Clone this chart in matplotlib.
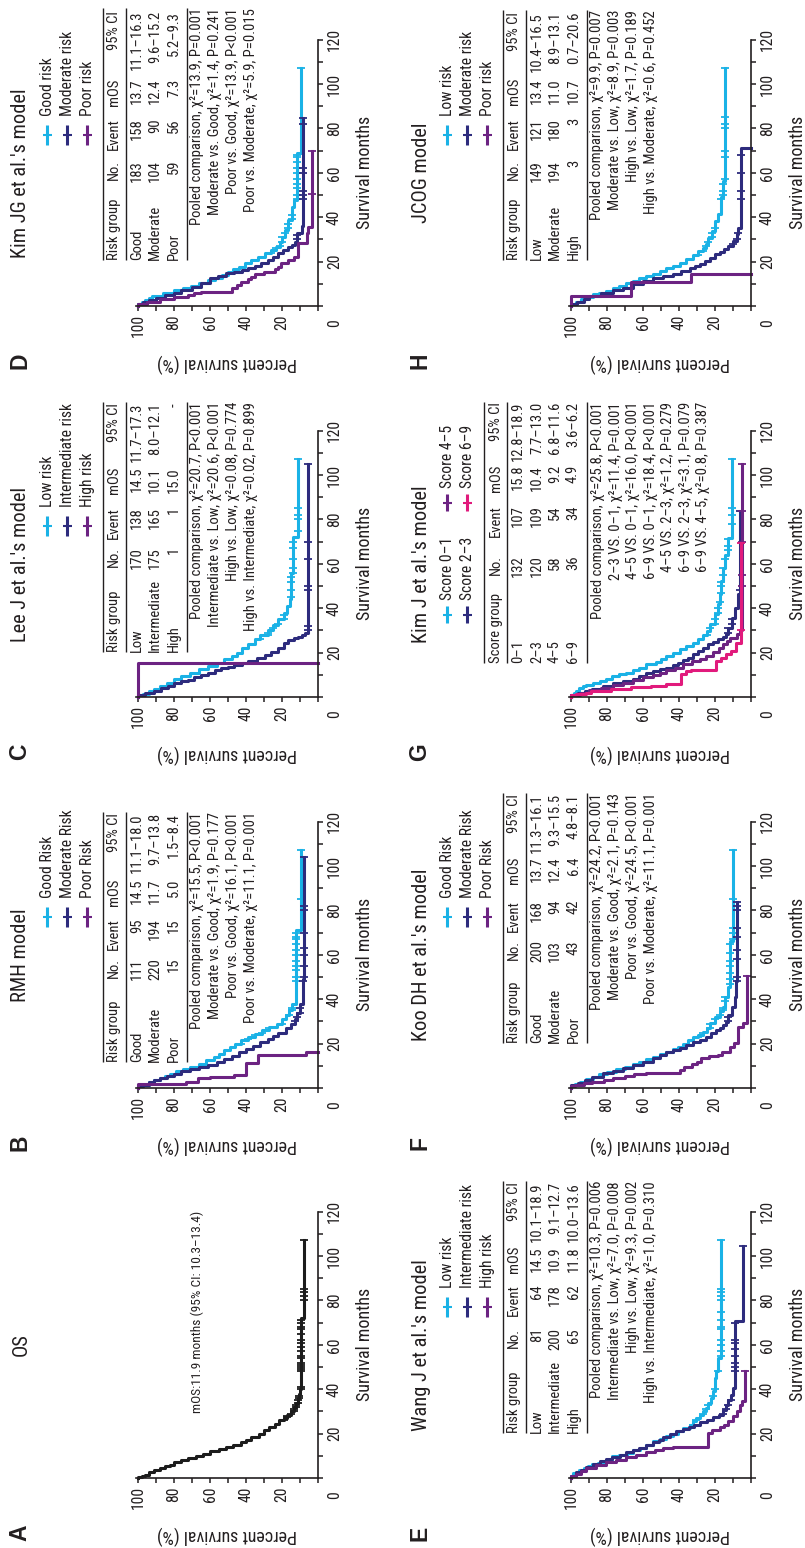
import numpy as np
import matplotlib
matplotlib.use("Agg")
import matplotlib.pyplot as plt
from matplotlib.lines import Line2D
from matplotlib import font_manager
from matplotlib.font_manager import FontProperties
from matplotlib.textpath import TextToPath

# the figure's type is tall and condensed: use a narrow sans if one is installed
_names = {f.name for f in font_manager.fontManager.ttflist}
_cands = ['Liberation Sans Narrow', 'Arial Narrow', 'Roboto Condensed', 'Noto Sans Condensed',
          'Open Sans Condensed', 'DejaVu Sans Condensed']
FONT = next((c for c in _cands if c in _names), 'Liberation Sans')
_ttp = TextToPath()


def _width(fam):
    prop = FontProperties(family=fam, size=10)
    return _ttp.get_text_width_height_descent('Survival months 0123456789', prop, ismath=False)[0]


K = min(max(_width('Liberation Sans') / _width(FONT), 1.0), 1.25)
plt.rcParams['font.family'] = [FONT, 'Liberation Sans', 'DejaVu Sans']

# ---------------- data: (months, survival %) step points ----------------
A_OS = [(0, 100), (0.5, 98), (1, 96), (1.5, 94), (2.5, 91), (3.5, 88), (4.5, 85), (5.5, 82), (6, 80),
        (7, 76), (8, 72), (9, 68), (10, 64), (11, 60), (12, 55), (13, 51), (14, 47), (15, 43), (16, 40),
        (17, 37), (18.5, 33), (20, 30), (21.5, 27), (23, 24), (24.5, 21.5), (26, 19), (27, 17), (28.5, 15),
        (30, 13.5), (32, 12.2), (34, 11.2), (36, 10.5), (38, 10), (40, 9.2), (72, 7.6)]
A_OS_CENS = [26, 27.5, 28, 29, 30, 31, 32, 33, 34, 35, 36, 37, 40, 41, 48, 49, 50, 51, 52, 54, 55, 57, 59,
             61, 62, 65, 67, 68, 70, 71, 80, 82, 84, 85, 107]

B_GOOD = [(0, 100), (0.7, 97), (1.5, 94), (2.5, 91), (3.5, 88), (4.5, 85), (5.5, 82), (6.5, 79), (7.5, 75),
          (8.5, 71), (9.5, 66), (11, 62), (12.5, 58), (14, 55), (15.5, 52), (17, 49), (18.5, 46), (20, 43),
          (21.5, 39), (23, 35), (24.5, 31), (26, 27), (27.5, 23), (29, 20), (31, 18), (33, 16), (35, 14.5),
          (38, 12), (71, 9.2)]
B_GOOD_CENS = [20, 22, 24, 25, 27, 29, 33, 35, 36, 48, 50, 53, 55, 57, 60, 62, 65, 67, 68, 70, 85, 107]
B_MOD = [(0, 100), (0.7, 97), (1.5, 94), (2.5, 91), (3.5, 88), (4.5, 84), (5.5, 80), (6.5, 76), (7.5, 71),
         (8.5, 66), (9.5, 61), (10.5, 56), (11.7, 52), (13, 48), (14.5, 44), (16, 40), (17.5, 36), (19, 32),
         (20.5, 28), (22, 25), (23.5, 22), (25, 18), (27, 15), (29, 13), (31, 11.5), (34, 10), (38, 8.5),
         (49, 7.6)]
B_MOD_CENS = [30, 32, 34, 36, 48, 50, 55, 60, 63, 70, 80, 82, 104]
B_POOR = [(0, 100), (1.6, 86.7), (1.8, 73.3), (2.9, 66.7), (4.4, 60), (5.0, 46.7), (5.9, 40), (11.1, 33.3),
          (14.9, 6.7), (16.4, 0)]

C_LOW = [(0, 100), (0.7, 97), (1.5, 94), (2.5, 91), (3.5, 88), (5, 84), (6.5, 80), (8, 76), (9.5, 71),
         (11, 66), (12.5, 61), (14, 56), (15.5, 52), (17, 48), (18.5, 45), (20, 42), (22, 39), (24, 35),
         (26, 32), (28, 28), (30, 25), (32.5, 22), (35, 19), (38, 17), (41, 15.8), (44, 14.8), (56, 14),
         (72, 11.2)]
C_LOW_CENS = [26, 28, 29, 31, 33, 35, 37, 45, 48, 52, 54, 56, 58, 62, 67, 70, 75, 80, 82, 85, 107]
C_INT = [(0, 100), (0.7, 96), (1.7, 91), (2.8, 87), (3.9, 83.6), (5, 80), (6.2, 76), (7, 72), (7.7, 68.7),
         (8.8, 65), (9.9, 61.3), (11, 57.5), (12.2, 53.8), (13, 50), (13.7, 46.4), (14.5, 42.5), (15.2, 39),
         (16.3, 34), (17.4, 29.6), (19, 26), (20.4, 22.2), (22, 19), (24.2, 16.6), (25.5, 13.5), (26.4, 11),
         (27.2, 9), (27.9, 7.3), (28.7, 5.4)]
C_INT_CENS = [30, 32, 48, 50, 62, 70, 105]
C_HIGH = [(0, 100), (15.5, 0)]

D_GOOD = [(0, 100), (0.8, 98), (1.8, 96), (2.8, 94), (3.5, 92), (4.5, 86), (5.7, 80), (7, 75), (8, 70.6),
          (9, 66), (10.2, 61.3), (11.5, 57), (12.8, 53.5), (14, 50.1), (15.2, 47), (16.5, 44), (17.7, 40.8),
          (19.2, 37), (20.7, 33.3), (22.2, 29.5), (23.7, 26), (25.2, 23.5), (26.7, 21.2), (29, 19.8),
          (31.2, 18.4), (34.2, 16.6), (38.7, 14.7), (44.7, 13.2), (47.7, 11.9), (68.8, 9.5)]
D_GOOD_CENS = [24, 26, 27, 29, 31, 33, 35, 37, 39, 41, 48, 50, 53, 55, 57, 60, 62, 65, 67, 68, 107]
D_MOD = [(0, 100), (0.8, 97), (1.8, 94), (2.8, 90), (3.8, 85), (4.8, 80), (5.7, 76), (7.2, 70), (8.7, 65),
         (10.5, 60), (12.5, 55.7), (13.6, 51), (14.7, 46.4), (15.5, 42.5), (16.2, 38.9), (17, 35.2),
         (18, 31.5), (19.2, 27.7), (20.7, 25), (22.2, 22.2), (23.7, 19.4), (25.2, 16.6), (26.5, 14.5),
         (27.5, 12.8), (29, 11.9), (32.7, 9.1), (36, 8.2)]
D_MOD_CENS = [30, 32, 48, 50, 52, 60, 62, 82, 84.5]
D_POOR = [(0, 100), (1, 95), (2, 88), (3, 80), (4.2, 72.4), (5, 69), (5.7, 65), (6.5, 48), (8, 45),
          (9.5, 42.6), (11, 39), (12, 37), (13.2, 35.2), (14.2, 30), (15.5, 24), (16.5, 22), (17.7, 20.3),
          (19.2, 16.6), (20.5, 13.5), (22.2, 11), (28.2, 6.3), (32.7, 5.4), (35.7, 3.5)]
D_POOR_CENS = [50.5, 70]

E_LOW = [(0, 100), (1, 98.8), (2.3, 95.5), (3.5, 93), (4.5, 90.5), (5.3, 88.1), (6.2, 85), (6.8, 80.6),
         (8, 77), (9.8, 73.2), (10.5, 69), (11.3, 65.7), (12.5, 61.5), (13.5, 58.3), (15, 54.5), (16.5, 50.8),
         (17.5, 47), (18.8, 43.4), (20, 40.5), (21, 37.8), (22.5, 34), (24, 32), (25.5, 30.4), (27, 28.5),
         (28.5, 26.6), (30, 25), (31.5, 23.8), (34, 22.5), (36, 21), (39, 20.1), (45, 19.2), (48, 18.2),
         (54, 16.4)]
E_LOW_CENS = [24, 26, 29, 31, 33, 37, 40, 48, 55, 57, 60, 62, 67, 68, 71, 75, 80, 82, 84, 85, 107]
E_INT = [(0, 100), (1, 97.5), (2.5, 94.5), (3.8, 91.8), (5, 88), (6.2, 84), (7.5, 80.6), (8.5, 77), (9.5, 73),
         (10.5, 69.5), (11.5, 65.5), (12.5, 62), (13.5, 58.3), (15, 54.5), (16.3, 51), (17.3, 49), (18.5, 45),
         (19.8, 41.5), (21, 37.8), (22, 34.5), (23, 31.5), (24, 28.5), (25.2, 24.5), (26.3, 21), (27.4, 18),
         (28.5, 15.5), (30.5, 14), (33, 12.7), (35, 11.2), (37.5, 9.9), (40.5, 8.9), (70.6, 4.3)]
E_INT_CENS = [29, 31, 33, 35, 48, 50, 52, 55, 58, 61, 62, 70, 104.4]
E_HIGH = [(0, 100), (1, 97), (2, 94.5), (3, 91.8), (4.5, 86), (6, 80.6), (7.2, 75), (8.3, 69.5), (9.4, 64),
          (10.5, 58.3), (11.6, 53.5), (12.8, 49), (13.3, 43.4), (13.8, 23.8), (20.3, 21.5), (21.8, 17.3),
          (23, 15), (24, 12.7), (25.5, 9.9), (27.8, 8), (30, 6.1), (33, 5.2), (34.5, 3.3)]
E_HIGH_CENS = [48]

F_GOOD = [(0, 100), (0.8, 98), (1.8, 95), (2.9, 91.8), (4, 88), (5.1, 84.4), (6.2, 80), (7.4, 75), (8.5, 70),
          (9.6, 65.7), (10.7, 62), (11.9, 58.3), (13, 54.5), (14.1, 50.8), (15.2, 47), (16.4, 43.4),
          (17.5, 40.5), (18.6, 37.8), (20, 35), (21.6, 32.2), (22.8, 29.5), (23.9, 26.6), (25.4, 24.5),
          (26.9, 22.9), (29.1, 20.1), (32.1, 17.3), (34.5, 15.8), (36.6, 14.5), (41.1, 12.7), (45.6, 11.7),
          (66, 9.9)]
F_GOOD_CENS = [23, 25, 27, 29, 31, 33, 35, 36, 39, 41, 47, 49, 52, 55, 57, 61, 65, 67, 70, 72, 85, 107]
F_MOD = [(0, 100), (1.2, 96), (2.4, 92), (3.6, 88.1), (5.1, 82.5), (6.6, 76.9), (7.7, 71.3), (8.9, 65.7),
         (10.4, 60), (11.9, 54.6), (13.4, 50.8), (14.9, 47.1), (16, 43.4), (17.1, 39.7), (18.2, 36),
         (19.4, 32.2), (20.5, 28.5), (21.6, 24.8), (23.1, 22), (24.6, 19.2), (26, 17), (26.9, 15.5),
         (28.4, 14), (29.9, 12.7), (32.9, 10.8), (36.6, 8.9), (41.1, 8.4), (48, 7.9)]
F_MOD_CENS = [30, 32, 48, 50, 58, 62, 68, 72, 80, 82, 84]
F_POOR = [(0, 100), (0.7, 97.7), (1.4, 93), (2.2, 88.4), (2.9, 81.4), (3.7, 76.7), (4.4, 69.8), (5.5, 65.1),
          (6.4, 58.1), (6.6, 39.5), (8.1, 37.2), (9.6, 32.6), (10.8, 30.2), (11.9, 27.9), (13.4, 23.3),
          (14.2, 18.6), (14.9, 16.3), (16.4, 11.6), (18.6, 9.3), (20.1, 7), (27.6, 4.7), (29.1, 2.3)]
F_POOR_CENS = [50.5]

G_S01 = [(0, 100), (1, 98.5), (2, 97), (2.7, 95.5), (4, 93.5), (5, 91.8), (5.4, 88), (6.3, 84), (7.2, 80.6),
         (8.3, 77), (9.5, 73.2), (10.2, 69.5), (11, 65.7), (12, 62), (13.2, 58.3), (14.7, 52.7), (15.8, 50),
         (17, 47.1), (18.5, 43.5), (20, 39.7), (21.5, 36), (23, 32.2), (24.5, 29.5), (26, 26.6), (28, 24.5),
         (29.7, 22.9), (32.7, 20.1), (37.2, 18.2), (41.7, 17.3), (46.2, 16.4), (52.3, 15.4), (58.3, 14.5),
         (64, 12.7), (71.8, 10.8)]
G_S01_CENS = [28, 31, 33, 35, 38, 40, 43, 47, 50, 52, 55, 58, 62, 66, 68, 71, 78, 82, 85, 107]
G_S23 = [(0, 100), (0.8, 96), (1.7, 92), (2.7, 88.1), (3.8, 82.5), (5, 76.9), (6.1, 71.3), (7.2, 65.7),
         (8.3, 62), (9.5, 58.3), (10.6, 54.5), (11.7, 50.8), (12.5, 47), (13.2, 43.4), (14.3, 40.5),
         (15.5, 37.8), (16.6, 35), (17.7, 32.2), (19.2, 29.4), (20.7, 26.6), (22.2, 23.8), (23.7, 21),
         (24.8, 18.2), (26, 15.5), (27.1, 14), (28.2, 12.7), (31.2, 10.8), (35.7, 8.9), (40.2, 7.1), (46.2, 6.1)]
G_S23_CENS = [29, 31, 33, 35, 48, 84]
G_S45 = [(0, 100), (1, 95), (2, 90), (3.1, 83.5), (4.2, 76.9), (5.3, 71.3), (6.5, 65.7), (7.7, 60), (9, 54.6),
         (10, 50.8), (11, 47.1), (12.1, 42.5), (13.2, 37.8), (14.7, 33), (16.2, 28.5), (17.3, 24.8), (18.5, 21),
         (20.3, 18), (22.2, 15.5), (23.7, 13.6), (25.2, 11.8), (26.7, 8), (28.2, 6.1), (30, 5.2)]
G_S45_CENS = [50, 55, 70, 84, 104.8]
G_S69 = [(0, 100), (0.8, 97.2), (1.5, 91.7), (2, 88.9), (2.7, 77.8), (3.5, 66.7), (4.5, 55.6), (5, 47.2),
         (5.7, 38.9), (10.2, 36.1), (11.6, 33.3), (12.2, 19.4), (16.2, 16.7), (17.7, 13.9), (19.2, 11.1),
         (20.7, 8.3), (24.5, 5.6)]
G_S69_CENS = [30, 69.5]

H_LOW = [(0, 100), (1, 97.5), (2, 94.5), (3, 91.8), (4.2, 88), (5.3, 84.4), (6, 80.5), (6.8, 76.9), (8, 73.2),
         (9, 69.5), (10.2, 65.7), (11.3, 62), (12.4, 58.3), (13.5, 54.6), (14.6, 50.8), (15.8, 47.1),
         (16.9, 43.4), (18, 39.7), (19.5, 36), (21, 32.2), (22.9, 29.4), (24.8, 26.6), (26.3, 25.2),
         (27.8, 23.8), (30.8, 21.9), (33.8, 20.1), (38.3, 18.2), (41.3, 16.9), (44, 16.4), (49, 15.4),
         (56.3, 14.5)]
H_LOW_CENS = [23, 25, 27, 29, 31, 33, 35, 48, 50, 52, 55, 57, 67, 70, 80, 82, 85, 107.4]
H_MOD = [(0, 100), (1, 96.5), (2, 93), (3, 90), (4.5, 83.5), (6, 76.9), (7.2, 71.3), (8.3, 65.7), (9.8, 60),
         (11.3, 54.6), (12.4, 49), (13.5, 43.4), (14.6, 38.8), (15.8, 34.1), (16.9, 31.3), (18, 28.5),
         (19.1, 25.7), (20.3, 22.9), (21.8, 20.1), (23.3, 17.3), (24.4, 15), (25.5, 12.7), (27, 9.9),
         (29.3, 8), (32.3, 7.1), (35.3, 5.8), (71.3, 0)]
H_MOD_CENS = [28, 30, 33, 48, 52, 60, 68]
H_HIGH = [(0, 100), (4.5, 66.7), (10.7, 33.3), (14.6, 0)]

# ---------------- tables ----------------
RISK_HEAD = ['Risk group', 'No.', 'Event', 'mOS', '95% CI']
SCORE_HEAD = ['Score group', 'No.', 'Event', 'mOS', '95% CI']

B_ROWS = [['Good', '111', '95', '14.5', '11.1–18.0'],
          ['Moderate', '220', '194', '11.7', '9.7–13.8'],
          ['Poor', '15', '15', '5.0', '1.5–8.4']]
B_STATS = ['Pooled comparison, χ²=15.5, P<0.001', 'Moderate vs. Good, χ²=1.9, P=0.177',
           'Poor vs. Good, χ²=16.1, P<0.001', 'Poor vs. Moderate, χ²=11.1, P=0.001']
C_ROWS = [['Low', '170', '138', '14.5', '11.7–17.3'],
          ['Intermediate', '175', '165', '10.1', '8.0–12.1'],
          ['High', '1', '1', '15.0', '-']]
C_STATS = ['Pooled comparison, χ²=20.7, P<0.001', 'Intermediate vs. Low, χ²=20.6, P<0.001',
           'High vs. Low, χ²=0.08, P=0.774', 'High vs. Intermediate, χ²=0.02, P=0.899']
D_ROWS = [['Good', '183', '158', '13.7', '11.1–16.3'],
          ['Moderate', '104', '90', '12.4', '9.6–15.2'],
          ['Poor', '59', '56', '7.3', '5.2–9.3']]
D_STATS = ['Pooled comparison, χ²=13.9, P=0.001', 'Moderate vs. Good, χ²=1.4, P=0.241',
           'Poor vs. Good, χ²=13.9, P<0.001', 'Poor vs. Moderate, χ²=5.9, P=0.015']
E_ROWS = [['Low', '81', '64', '14.5', '10.1–18.9'],
          ['Intermediate', '200', '178', '10.9', '9.1–12.7'],
          ['High', '65', '62', '11.8', '10.0–13.6']]
E_STATS = ['Pooled comparison, χ²=10.3, P=0.006', 'Intermediate vs. Low, χ²=7.0, P=0.008',
           'High vs. Low, χ²=9.3, P=0.002', 'High vs. Intermediate, χ²=1.0, P=0.310']
F_ROWS = [['Good', '200', '168', '13.7', '11.3–16.1'],
          ['Moderate', '103', '94', '12.4', '9.3–15.5'],
          ['Poor', '43', '42', '6.4', '4.8–8.1']]
F_STATS = ['Pooled comparison, χ²=24.2, P<0.001', 'Moderate vs. Good, χ²=2.1, P=0.143',
           'Poor vs. Good, χ²=24.5, P<0.001', 'Poor vs. Moderate, χ²=11.1, P=0.001']
G_ROWS = [['0–1', '132', '107', '15.8', '12.8–18.9'],
          ['2–3', '120', '109', '10.4', '7.7–13.0'],
          ['4–5', '58', '54', '9.2', '6.8–11.6'],
          ['6–9', '36', '34', '4.9', '3.6–6.2']]
G_STATS = ['Pooled comparison, χ²=25.8, P<0.001', '2–3 VS. 0–1, χ²=11.4, P=0.001',
           '4–5 VS. 0–1, χ²=16.0, P<0.001', '6–9 VS. 0–1, χ²=18.4, P<0.001',
           '4–5 VS. 2–3, χ²=1.2, P=0.279', '6–9 VS. 2–3, χ²=3.1, P=0.079', '6–9 VS. 4–5, χ²=0.8, P=0.387']
H_ROWS = [['Low', '149', '121', '13.4', '10.4–16.5'],
          ['Moderate', '194', '180', '11.0', '8.9–13.1'],
          ['High', '3', '3', '10.7', '0.7–20.6']]
H_STATS = ['Pooled comparison, χ²=9.9, P=0.007', 'Moderate vs. Low, χ²=8.9, P=0.003',
           'High vs. Low, χ²=1.7, P=0.189', 'High vs. Moderate, χ²=0.6, P=0.452']

# ---------------- style / layout (pixels of the 805x1548 page) ----------------
LB, NAVY, PURP, MAG, BLK = '#1ab2e6', '#2d2b7d', '#6c2382', '#e11a7c', '#1c1c1c'
TXT = '#231f20'

W, H = 805, 1548
SX, SY = 1.80, 2.22            # px per % survival, px per month
COL_X = [0, 400]               # overlay offset of each column
COL_AX = [318, 751]            # x of survival = 0 (months axis)
ROW_Y = [1478, 1088, 697, 306] # y of months = 0

ROWS3_X = (103, 114, 126, (137, 155, 174), 187, (197, 215, 233, 251))
ROWS4_X = (84, 96, 107, (118, 137, 155, 173), 187, (198, 215.5, 233, 250.5, 268, 285.5, 303))

fig = plt.figure(figsize=(W / 100, H / 100), dpi=100)


def ptext(x, y, s, size, ha='center', va='center', rot=90, **kw):
    fig.text(x / W, 1 - y / H, s, fontsize=size, rotation=rot, ha=ha, va=va, color=TXT, **kw)


def pline(xs, ys, **kw):
    fig.add_artist(Line2D([v / W for v in xs], [1 - v / H for v in ys],
                          transform=fig.transFigure, solid_capstyle='butt', **kw))


def make_axes(col, row):
    x0, y0 = COL_AX[col], ROW_Y[row]
    wpx, hpx = 101 * SX, 120 * SY
    ax = fig.add_axes([(x0 - wpx) / W, 1 - y0 / H, wpx / W, hpx / H])
    ax.patch.set_visible(False)
    ax.set_xlim(101, 0)
    ax.set_ylim(0, 120)
    ax.spines[['top', 'left']].set_visible(False)
    ax.spines[['bottom', 'right']].set_linewidth(1.2)
    ax.spines[['bottom', 'right']].set_color(TXT)
    ax.yaxis.tick_right()
    ax.set_xticks([20, 40, 60, 80, 100])
    ax.set_xticks([0, 10, 30, 50, 70, 90], minor=True)
    ax.set_yticks(range(0, 121, 20))
    ax.set_yticklabels([''] + [str(v) for v in range(20, 121, 20)])
    ax.set_yticks(range(10, 120, 20), minor=True)
    ax.tick_params(which='both', direction='out', length=3.5, width=1.1, color=TXT, labelcolor=TXT)
    ax.tick_params(axis='x', labelsize=10 * K, labelrotation=90, pad=2.5)
    ax.tick_params(axis='y', labelsize=10 * K, labelrotation=90, pad=3)
    plt.setp(ax.get_yticklabels(), va='center')
    ax.set_xlabel('Percent survival (%)', fontsize=11.5 * K, rotation=180, va='center', color=TXT)
    ax.xaxis.set_label_coords(0.5, -57 / hpx)
    ax.yaxis.set_label_position('right')
    ax.set_ylabel('Survival months', fontsize=11.5 * K, rotation=90, va='center', ha='center', color=TXT)
    ax.yaxis.set_label_coords(1 + 47 / wpx, 0.5)
    ax.annotate('0', xy=(1, 0), xycoords='axes fraction', xytext=(17, -17), textcoords='offset pixels',
                rotation=90, ha='center', va='center', fontsize=10 * K, color=TXT)
    return ax


def km(ax, pts, cens, color, end=None):
    t = np.array([p[0] for p in pts], float)
    s = np.array([p[1] for p in pts], float)
    if end is None and cens:
        end = max(cens)
    tt, ss = t, s
    if s[-1] > 0 and end is not None:
        tt, ss = np.append(t, end), np.append(s, s[-1])
    # x = survival, y = months (the page is turned a quarter)
    ax.plot(ss, tt, drawstyle='steps-pre', color=color, lw=2.2, clip_on=False)
    if cens:
        c = np.array(cens, float)
        idx = np.searchsorted(t, c, side='right') - 1
        ax.plot(s[idx], c, ls='none', marker='_', ms=6, mew=1.3, color=color, clip_on=False)


def legend(dx, y0, entries, xs=(47, 67, 87), ysym=(-181, -161), ytxt=-190):
    for (lab, color), x in zip(entries, xs):
        pline([dx + x, dx + x], [y0 + ysym[0], y0 + ysym[1]], color=color, lw=2.2)
        ym = y0 + (ysym[0] + ysym[1]) / 2
        pline([dx + x - 4.5, dx + x + 4.5], [ym, ym], color=color, lw=1.5)
        ptext(dx + x, y0 + ytxt, lab, 10 * K, va='bottom')


def table(dx, y0, head, rows, stats, left, cols, right, xl):
    top, hx, hrule, rxs, bot, sxs = xl
    for xr in (top, hrule, bot):
        pline([dx + xr, dx + xr], [y0 + right, y0 + left], color=TXT, lw=1.0)
    fs = 9.3 * K
    ptext(dx + hx, y0 + left, head[0], fs, va='bottom')
    for lab, yc in zip(head[1:], cols):
        ptext(dx + hx, y0 + yc, lab, fs, va='top')
    for row, xr in zip(rows, rxs):
        ptext(dx + xr, y0 + left, row[0], fs, va='bottom')
        for val, yc in zip(row[1:], cols):
            ptext(dx + xr, y0 + yc, val, fs, va='top')
    for line, xr in zip(stats, sxs):
        ptext(dx + xr, y0 + right, line, fs, va='top')


def frame(col, row, letter, title):
    dx, y0 = COL_X[col], ROW_Y[row]
    ptext(dx + 20, y0 + 55, letter, 16.5, fontweight='bold', family='Liberation Sans')
    ptext(dx + 21, y0 - 133, title, 13 * K)
    return make_axes(col, row), dx, y0


# A
ax, dx, y0 = frame(0, 0, 'A', 'OS')
km(ax, A_OS, A_OS_CENS, BLK)
ptext(dx + 197, y0 - 166, 'mOS:11.9 months (95% CI: 10.3–13.4)', 8.5 * K)

# B
ax, dx, y0 = frame(0, 1, 'B', 'RMH model')
km(ax, B_GOOD, B_GOOD_CENS, LB)
km(ax, B_MOD, B_MOD_CENS, NAVY)
km(ax, B_POOR, [], PURP)
legend(dx, y0, [('Good Risk', LB), ('Moderate Risk', NAVY), ('Poor Risk', PURP)])
table(dx, y0, RISK_HEAD, B_ROWS, B_STATS, -26, (-130, -170, -209, -275), -276, ROWS3_X)

# C
ax, dx, y0 = frame(0, 2, 'C', "Lee J et al.'s model")
km(ax, C_LOW, C_LOW_CENS, LB)
km(ax, C_INT, C_INT_CENS, NAVY)
km(ax, C_HIGH, [], PURP)
legend(dx, y0, [('Low risk', LB), ('Intermediate risk', NAVY), ('High risk', PURP)])
table(dx, y0, RISK_HEAD, C_ROWS, C_STATS, -45, (-150, -190, -230, -294), -295, ROWS3_X)

# D
ax, dx, y0 = frame(0, 3, 'D', "Kim JG et al.'s model")
km(ax, D_GOOD, D_GOOD_CENS, LB)
km(ax, D_MOD, D_MOD_CENS, NAVY)
km(ax, D_POOR, D_POOR_CENS, PURP)
legend(dx, y0, [('Good risk', LB), ('Moderate risk', NAVY), ('Poor risk', PURP)])
table(dx, y0, RISK_HEAD, D_ROWS, D_STATS, -46, (-146, -188, -227, -295), -298, ROWS3_X)

# E
ax, dx, y0 = frame(1, 0, 'E', "Wang J et al.'s model")
km(ax, E_LOW, E_LOW_CENS, LB)
km(ax, E_INT, E_INT_CENS, NAVY)
km(ax, E_HIGH, E_HIGH_CENS, PURP)
legend(dx, y0, [('Low risk', LB), ('Intermediate risk', NAVY), ('High risk', PURP)])
table(dx, y0, RISK_HEAD, E_ROWS, E_STATS, -45, (-150, -194, -232, -296), -297, ROWS3_X)

# F
ax, dx, y0 = frame(1, 1, 'F', "Koo DH et al.'s model")
km(ax, F_GOOD, F_GOOD_CENS, LB)
km(ax, F_MOD, F_MOD_CENS, NAVY)
km(ax, F_POOR, F_POOR_CENS, PURP)
legend(dx, y0, [('Good Risk', LB), ('Moderate Risk', NAVY), ('Poor Risk', PURP)])
table(dx, y0, RISK_HEAD, F_ROWS, F_STATS, -45, (-148, -188, -231, -294), -295, ROWS3_X)

# G
ax, dx, y0 = frame(1, 2, 'G', "Kim J et al.'s model")
km(ax, G_S01, G_S01_CENS, LB)
km(ax, G_S23, G_S23_CENS, NAVY)
km(ax, G_S45, G_S45_CENS, PURP)
km(ax, G_S69, G_S69_CENS, MAG)
legend(dx, y0, [('Score 0–1', LB), ('Score 2–3', NAVY)], xs=(47, 67), ysym=(-91, -74), ytxt=-97)
legend(dx, y0, [('Score 4–5', PURP), ('Score 6–9', MAG)], xs=(47, 67), ysym=(-203, -186), ytxt=-209)
table(dx, y0, SCORE_HEAD, G_ROWS, G_STATS, -34, (-142, -192, -232, -295), -295, ROWS4_X)

# H
ax, dx, y0 = frame(1, 3, 'H', 'JCOG model')
km(ax, H_LOW, H_LOW_CENS, LB)
km(ax, H_MOD, H_MOD_CENS, NAVY)
km(ax, H_HIGH, [], PURP)
legend(dx, y0, [('Low risk', LB), ('Moderate risk', NAVY), ('Poor risk', PURP)])
table(dx, y0, RISK_HEAD, H_ROWS, H_STATS, -46, (-146, -188, -228, -294), -296, ROWS3_X)

fig.savefig('out.png', dpi=100, facecolor='white')
